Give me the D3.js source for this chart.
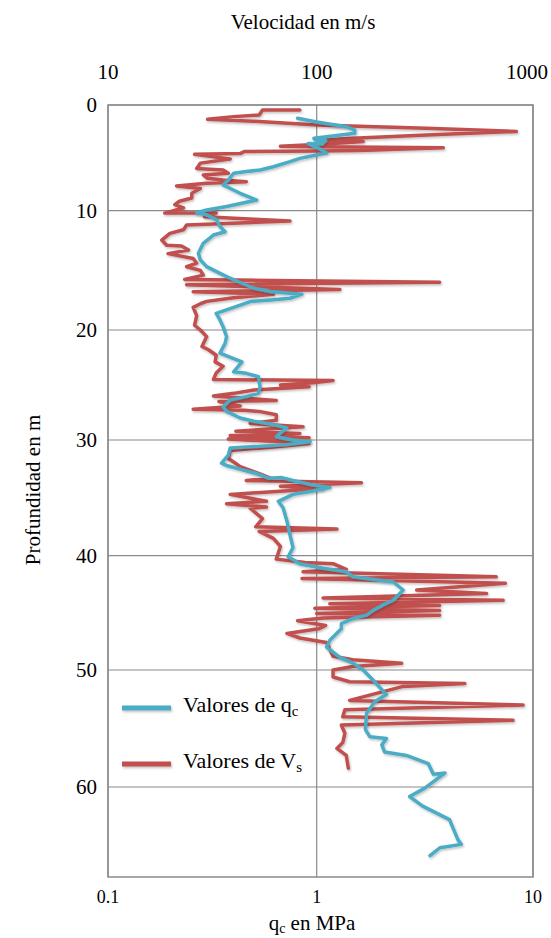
<!DOCTYPE html>
<html>
<head>
<meta charset="utf-8">
<script src="https://cdn.jsdelivr.net/npm/d3@7"></script>
<style>
  html, body { margin: 0; padding: 0; background: #fff; }
  svg { display: block; }
  svg text { font-family: "Liberation Serif", "DejaVu Serif", "Noto Serif", Tinos, serif; }
</style>
</head>
<body>
<svg id="chart" width="551" height="938"></svg>
<script>
// ---- data ----
const qcDepth = [1.26,1.6,2.05,2.37,2.68,3.0,3.15,3.3,3.35,3.7,3.65,4.1,4.55,4.73,5.05,5.36,5.84,6.15,6.3,6.46,7.1,7.57,8.35,8.99,9.6,9.93,10.17,10.35,10.77,11.33,11.76,12.04,12.73,13.57,14.13,14.69,15.25,15.66,16.08,16.5,16.78,16.92,17.0,17.34,17.48,17.62,18.04,18.6,19.16,19.72,20.61,21.2,22.1,22.6,22.9,23.8,23.94,24.25,25.15,25.76,26.06,26.36,26.97,27.4,28.0,28.3,28.6,28.9,29.4,29.7,30.0,30.15,30.4,30.7,31.3,32.0,32.2,32.6,32.9,33.3,33.25,33.5,33.9,34.1,34.4,34.7,35.3,35.85,37.0,38.2,39.3,40.1,40.7,41.1,41.4,41.85,42.3,43.0,43.9,44.3,44.8,45.2,45.5,45.95,46.4,46.98,47.4,48.0,48.9,49.4,50.0,50.85,52.1,52.7,53.7,55.1,55.7,55.85,56.4,57.0,57.3,58.0,58.9,58.8,60.1,60.85,61.7,62.9,64.7,65.1,65.4,66.1];
const qcValue = [0.81,1.0,1.37,1.50,1.50,1.11,0.97,0.98,1.10,1.06,0.91,1.02,1.11,1.0,0.83,0.745,0.62,0.535,0.46,0.40,0.377,0.356,0.43,0.516,0.37,0.297,0.266,0.297,0.332,0.344,0.364,0.32,0.286,0.271,0.277,0.297,0.344,0.385,0.438,0.50,0.60,0.745,0.85,0.745,0.60,0.48,0.41,0.33,0.344,0.356,0.37,0.364,0.344,0.40,0.438,0.40,0.46,0.526,0.535,0.526,0.46,0.385,0.356,0.37,0.43,0.50,0.62,0.72,0.667,0.64,0.77,0.93,0.72,0.385,0.377,0.35,0.37,0.446,0.516,0.587,0.68,0.77,0.96,1.15,0.96,0.77,0.655,0.69,0.72,0.745,0.77,0.73,0.83,1.07,1.37,1.47,2.26,2.51,2.26,2.03,1.82,1.70,1.47,1.30,1.30,1.21,1.15,1.11,1.28,1.47,1.64,1.82,2.10,1.86,1.70,1.68,1.76,2.10,2.0,2.06,2.60,3.28,3.46,3.92,3.16,2.69,3.09,4.11,4.50,4.66,3.71,3.34];

const vsDepth = [0.47,0.47,0.95,1.1,1.35,1.55,1.9,2.2,2.5,2.84,3.15,3.3,3.45,3.7,3.9,3.95,4.04,4.3,4.35,4.4,4.6,4.67,5.1,5.5,6.0,6.15,6.46,6.62,6.93,7.1,7.26,7.4,7.66,7.9,8.35,8.8,9.1,9.43,9.73,10.2,10.2,10.5,10.86,11.2,11.6,11.9,12.46,12.9,12.95,13.3,13.6,14.0,14.4,14.7,15.0,15.4,15.76,16.0,16.2,16.6,16.8,17.0,17.3,17.6,17.8,18.1,18.8,19.6,20.0,20.6,21.5,21.8,22.3,22.9,23.3,23.9,24.5,24.6,24.8,25.0,25.15,25.45,25.76,26.0,26.4,26.5,26.9,27.2,27.3,27.4,27.7,28.2,28.5,28.8,29.2,29.4,29.6,29.8,29.9,30.3,30.6,30.9,31.6,31.9,32.3,32.9,33.3,33.5,33.7,34.0,34.2,34.7,35.3,35.5,35.8,35.9,36.8,37.5,37.7,37.9,38.5,39.2,40.3,40.6,40.7,41.2,41.4,41.85,42.0,42.4,43.0,43.3,43.7,43.9,44.2,44.35,44.6,44.8,45.05,45.2,45.45,45.7,46.1,46.4,46.8,47.2,47.6,48.8,49.1,49.4,49.7,50.0,50.6,51.0,51.15,51.4,52.6,53.0,53.4,54.0,54.3,54.7,55.4,56.2,56.7,57.3,58.4];
const vsValue = [83,55,53,40,30,53,100,322,838,322,147,107,164,110,67,100,385,158,100,45,43,26,38.5,27.7,26.6,35.6,37.7,28.6,30,35.6,46,29.7,21.3,27.7,25.2,25.2,22,20.9,23,18.7,33,29,74.5,23.8,23,19.8,18.1,19.1,22.5,24.3,19.4,25.6,26.6,23.8,27.7,28.6,23.3,370,23.8,128,25.6,62,40,29.7,27.7,25.6,26.6,26,27.7,29.7,28.2,30.3,33,32.6,35.6,33,32,119,96,67,92,50,40,32,64,34,43,25.6,45,53,64,64,48,86,41,83,38.5,92,37.7,92,62,38.5,37.7,40,43,53,60,46,161,67,107,38.5,57.5,37,57.5,48,55,51,124,53,62,67,64,88,119,137,86,676,85,745,290,610,107,728,115,370,98,370,100,370,107,81,110,102,72,83,111,119,147,247,147,119,119,142,484,251,142,900,135,132,809,130,135,132,124,137,140];

const depthTicks = [0,10,20,30,40,50,60];
const qcTicks = [0.1,1,10];
const vsTicks = [10,100,1000];
const qcTickLabels = ["0.1","1","10"];
const vsTickLabels = ["10","100","1000"];

(function () {
const svg = d3.select("#chart");
const pL = 108, pR = 533, pT = 105, pB = 877;
const W = 551;

const y = d3.scaleLinear()
  .domain([0,10,20,30,40,50,60,68])
  .range([105,210.7,330,440,555.7,670,787,877]);
const xq = d3.scaleLog().domain([0.1,1,10]).range([pL,316.7,pR]);
const xv = d3.scaleLog().domain([10,100,1000]).range([pL,316.7,pR]);

const gridColor = "#8a8a8a";

const grid = svg.append("g");
grid.selectAll("line.h").data(depthTicks).join("line")
  .attr("x1", pL).attr("x2", pR)
  .attr("y1", d => y(d)).attr("y2", d => y(d))
  .attr("stroke", gridColor).attr("stroke-width", 1.2);
grid.selectAll("line.v").data(qcTicks).join("line")
  .attr("y1", pT).attr("y2", pB)
  .attr("x1", d => xq(d)).attr("x2", d => xq(d))
  .attr("stroke", gridColor).attr("stroke-width", 1.2);
svg.append("rect").attr("x", pL).attr("y", pT)
  .attr("width", pR-pL).attr("height", pB-pT)
  .attr("fill", "none").attr("stroke", gridColor).attr("stroke-width", 1.5);

const defs = svg.append("defs");
const f = defs.append("filter").attr("id","sh").attr("filterUnits","userSpaceOnUse")
  .attr("x",0).attr("y",0).attr("width",W).attr("height",938);
f.append("feDropShadow").attr("dx",1).attr("dy",1.5).attr("stdDeviation",1)
  .attr("flood-color","#000").attr("flood-opacity",0.25);

const blue = "#4BACC6", red = "#C0504D";

const lineVs = d3.line().x(d => xv(d[1])).y(d => y(d[0]));
const lineQc = d3.line().x(d => xq(d[1])).y(d => y(d[0]));

svg.append("path")
  .datum(vsDepth.map((d,i) => [d, vsValue[i]]))
  .attr("d", lineVs).attr("fill","none").attr("stroke", red)
  .attr("stroke-width", 3.5).attr("stroke-linejoin","round").attr("stroke-linecap","round")
  .attr("filter","url(#sh)");

svg.append("path")
  .datum(qcDepth.map((d,i) => [d, qcValue[i]]))
  .attr("d", lineQc).attr("fill","none").attr("stroke", blue)
  .attr("stroke-width", 3.5).attr("stroke-linejoin","round").attr("stroke-linecap","round")
  .attr("filter","url(#sh)");

svg.selectAll("text.ytick").data(depthTicks).join("text")
  .attr("class","ytick")
  .attr("x", 97).attr("y", d => y(d)).attr("dy","0.35em")
  .attr("text-anchor","end").attr("font-size", 21).text(d => d);

svg.selectAll("text.ttick").data(vsTicks).join("text")
  .attr("class","ttick")
  .attr("x", d => xv(d)).attr("y", 79)
  .attr("text-anchor","middle").attr("font-size", 21).text((d,i) => vsTickLabels[i])
  .each(function() {
    const w = this.getComputedTextLength();
    const cx = +this.getAttribute("x");
    if (cx + w/2 > W - 3) this.setAttribute("x", W - 3 - w/2);
  });

svg.selectAll("text.btick").data(qcTicks).join("text")
  .attr("class","btick")
  .attr("x", d => xq(d)).attr("y", 903)
  .attr("text-anchor","middle").attr("font-size", 18).text((d,i) => qcTickLabels[i]);

svg.append("text").attr("x", 303).attr("y", 29).attr("text-anchor","middle")
  .attr("font-size", 21).text("Velocidad en m/s");

const bt = svg.append("text").attr("x", 312).attr("y", 930).attr("text-anchor","middle").attr("font-size", 21);
bt.append("tspan").text("q");
bt.append("tspan").attr("font-size", 14).attr("dy", 3).text("c");
bt.append("tspan").attr("dy", -3).text(" en MPa");

svg.append("text").attr("transform","translate(40,490) rotate(-90)").attr("text-anchor","middle")
  .attr("font-size", 21).text("Profundidad en m");

const legend = [
  {label:"Valores de q", sub:"c", color: blue, y: 708},
  {label:"Valores de V", sub:"s", color: red, y: 764}
];
const lg = svg.append("g");
legend.forEach(l => {
  lg.append("line").attr("x1",122).attr("x2",171).attr("y1",l.y).attr("y2",l.y)
    .attr("stroke", l.color).attr("stroke-width",5).attr("filter","url(#sh)");
  const t = lg.append("text").attr("x",183).attr("y", l.y+4).attr("font-size",22);
  t.append("tspan").text(l.label);
  t.append("tspan").attr("font-size",15).attr("dy",4).text(l.sub);
});
})();
</script>
</body>
</html>
